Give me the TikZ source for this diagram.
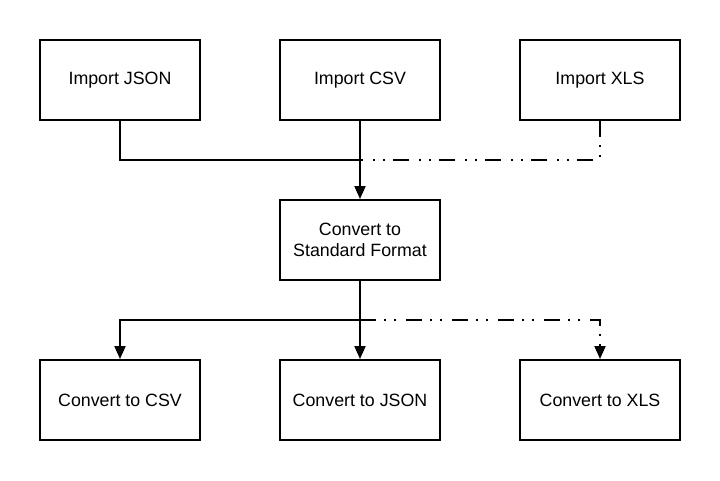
\documentclass[tikz,border=0pt]{standalone}
\usepackage{fontspec}
\setmainfont{Liberation Sans}
\usetikzlibrary{arrows.meta}
\begin{document}
\begin{tikzpicture}[x=1pt,y=-1pt,
  box/.style={draw,line width=2pt,minimum width=160pt,minimum height=80pt,align=center,font=\fontsize{17.8}{21}\selectfont,inner sep=0pt},
  conn/.style={line width=2pt},
  arr/.style={conn,-{Triangle[width=11pt,length=13pt]}},
  dd/.style={line width=2pt,dash pattern=on 16pt off 8pt on 2pt off 8pt on 2pt off 10pt}]
\useasboundingbox (0,0) rectangle (720,480);
\node[box] (ij) at (120,80) {Import JSON};
\node[box] (ic) at (360,80) {Import CSV};
\node[box] (ix) at (600,80) {Import XLS};
\node[box] (sf) at (360,240) {Convert to\\Standard Format};
\node[box] (cc) at (120,400) {Convert to CSV};
\node[box] (cj) at (360,400) {Convert to JSON};
\node[box] (cx) at (600,400) {Convert to XLS};
\coordinate (top) at (360,160);
\coordinate (bot) at (360,320);
\draw[conn] (ij.south) |- (top);
\draw[arr] (ic.south) -- (sf.north);
\draw[dd] (ix.south) |- (top);
\draw[arr] (sf.south) -- (cj.north);
\draw[arr] (bot) -| (cc.north);
\draw[dd,-{Triangle[width=11pt,length=13pt]}] (bot) -| (cx.north);
\end{tikzpicture}
\end{document}
